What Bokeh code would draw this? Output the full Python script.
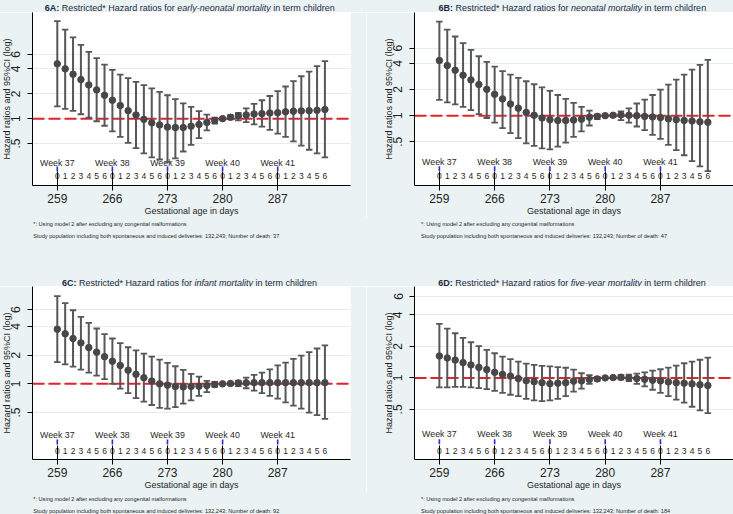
import math
from bokeh.plotting import figure
from bokeh.models import FixedTicker, Span, Range1d, Div
from bokeh.layouts import column, row
from bokeh.embed import file_html
from bokeh.resources import INLINE
from bokeh.core.properties import value

# ---------------- data ----------------
DAYS = list(range(259, 294))
DAY_DIGITS = ["0", "1", "2", "3", "4", "5", "6"] * 5
TICK_DAYS = [259, 266, 273, 280, 287]
WEEK_LABELS = ["Week 37", "Week 38", "Week 39", "Week 40", "Week 41"]
Y_TICKS = [0.5, 1, 2, 4, 6]
Y_TICK_LABELS = [".5", "1", "2", "4", "6"]

hr_6a = [4.61, 4.01, 3.45, 2.97, 2.56, 2.23, 1.92, 1.67, 1.44, 1.25, 1.11, 0.98, 0.89, 0.84, 0.79, 0.78, 0.78, 0.81,
         0.85, 0.90, 0.95, 1.00, 1.04, 1.08, 1.11, 1.14, 1.15, 1.17, 1.18, 1.21, 1.23, 1.24, 1.25, 1.26, 1.29]
hi_6a = [15.2, 12.0, 9.62, 7.84, 6.45, 5.40, 4.52, 3.90, 3.42, 3.09, 2.79, 2.54, 2.33, 2.11, 1.92, 1.72, 1.53, 1.39,
         1.23, 1.12, 1.03, 1.00, 1.10, 1.17, 1.33, 1.51, 1.67, 1.88, 2.15, 2.45, 2.84, 3.26, 3.72, 4.32, 4.97]
lo_6a = [1.41, 1.31, 1.24, 1.13, 1.03, 0.93, 0.82, 0.70, 0.60, 0.51, 0.44, 0.38, 0.34, 0.32, 0.30, 0.33, 0.40, 0.48,
         0.58, 0.72, 0.87, 1.00, 0.98, 0.955, 0.91, 0.85, 0.80, 0.73, 0.66, 0.60, 0.53, 0.47, 0.42, 0.38, 0.34]

hr_6b = [4.31, 3.77, 3.33, 2.92, 2.58, 2.28, 2.01, 1.76, 1.56, 1.36, 1.22, 1.09, 1.01, 0.94, 0.90, 0.88, 0.88, 0.89,
         0.91, 0.96, 0.98, 1.00, 1.01, 1.02, 1.01, 1.00, 0.98, 0.965, 0.95, 0.92, 0.90, 0.88, 0.87, 0.85, 0.84]
hi_6b = [12.1, 9.8, 8.15, 6.83, 5.72, 4.83, 4.16, 3.67, 3.25, 2.97, 2.72, 2.49, 2.30, 2.12, 1.93, 1.73, 1.56, 1.40,
         1.26, 1.14, 1.035, 1.00, 1.045, 1.12, 1.21, 1.38, 1.53, 1.73, 1.99, 2.28, 2.60, 2.97, 3.39, 3.84, 4.39]
lo_6b = [1.52, 1.42, 1.35, 1.26, 1.16, 1.04, 0.94, 0.83, 0.72, 0.63, 0.55, 0.48, 0.45, 0.42, 0.41, 0.44, 0.49, 0.57,
         0.66, 0.77, 0.91, 1.00, 0.97, 0.89, 0.83, 0.75, 0.68, 0.60, 0.54, 0.46, 0.40, 0.35, 0.30, 0.26, 0.23]

hr_6c = [3.74, 3.35, 2.99, 2.69, 2.40, 2.15, 1.93, 1.73, 1.56, 1.39, 1.26, 1.16, 1.07, 1.00, 0.97, 0.94, 0.93, 0.94,
         0.945, 0.96, 0.985, 1.00, 1.01, 1.02, 1.025, 1.03, 1.03, 1.03, 1.03, 1.03, 1.03, 1.03, 1.03, 1.03, 1.03]
hi_6c = [8.31, 7.02, 5.92, 5.04, 4.36, 3.81, 3.32, 2.99, 2.67, 2.42, 2.25, 2.08, 1.93, 1.80, 1.66, 1.53, 1.40, 1.27,
         1.19, 1.075, 1.05, 1.00, 1.03, 1.08, 1.165, 1.24, 1.31, 1.42, 1.56, 1.67, 1.83, 1.98, 2.15, 2.35, 2.53]
lo_6c = [1.69, 1.60, 1.52, 1.41, 1.31, 1.22, 1.12, 1.00, 0.89, 0.80, 0.71, 0.65, 0.60, 0.56, 0.55, 0.57, 0.62, 0.67,
         0.75, 0.82, 0.93, 1.00, 0.97, 0.945, 0.90, 0.85, 0.80, 0.75, 0.70, 0.64, 0.59, 0.55, 0.50, 0.47, 0.43]

hr_6d = [1.62, 1.55, 1.48, 1.40, 1.33, 1.26, 1.20, 1.13, 1.08, 1.04, 0.985, 0.94, 0.92, 0.90, 0.88, 0.89, 0.90, 0.93,
         0.936, 0.964, 0.978, 1.00, 1.007, 1.015, 1.00, 0.985, 0.97, 0.95, 0.936, 0.916, 0.90, 0.89, 0.876, 0.86, 0.845]
hi_6d = [3.28, 2.96, 2.67, 2.41, 2.19, 2.01, 1.85, 1.72, 1.60, 1.51, 1.43, 1.37, 1.33, 1.30, 1.29, 1.27, 1.25, 1.20,
         1.108, 1.06, 1.02, 1.00, 1.03, 1.06, 1.076, 1.10, 1.13, 1.175, 1.21, 1.255, 1.31, 1.38, 1.43, 1.49, 1.56]
lo_6d = [0.81, 0.81, 0.82, 0.82, 0.81, 0.80, 0.78, 0.75, 0.72, 0.69, 0.67, 0.63, 0.61, 0.60, 0.61, 0.63, 0.67, 0.74,
         0.79, 0.876, 0.943, 1.00, 0.98, 0.964, 0.93, 0.876, 0.83, 0.77, 0.72, 0.67, 0.62, 0.58, 0.53, 0.49, 0.46]

PANEL_IDS = ["6A:", "6B:", "6C:", "6D:"]
OUTCOMES = ["early-neonatal mortality", "neonatal mortality", "infant mortality", "five-year mortality"]
DEATHS = [37, 47, 92, 184]

TITLE_PRE = "Restricted* Hazard ratios for"
TITLE_POST = "in term children"
FOOT1 = "*: Using model 2 after excluding any congenital malformations"
FOOT2 = "Study population including both spontaneous and induced deliveries: 132,243; Number of death: {}"
X_LABEL = "Gestational age in days"
Y_LABEL = "Hazard ratios and 95%CI (log)"

# annotation heights (data units on the log axis)
WEEK_Y = 0.29
WEEK_TICK_Y = 0.245
DAY_Y = 0.2

# ---------------- style ----------------
FONT = "Liberation Sans"
BG = "#eaf2f3"
GRID = "#e4ecee"
RED = "#e0242b"
BAR = "#575757"
DOT = "#474747"
TXT = "#1f1f1f"
TITLE_C = "#1c2a44"
BLUE = "#2b2bd6"

X_START, X_END = 255.85, 296.25
FRAME_H = 173

# Helvetica / Arial width table (1/1000 em), used only to centre the title
_W = {}
for chars, w in [(" !,./:;Iift[]", 278), ("jl", 222), ("r()-", 333), ("*", 389),
                 ("ckszvxyJ", 500), ("abdeghnopqu0123456789", 556), ("ABEKPSVXY", 667),
                 ("CDHNRUw", 722), ("FTZ", 611), ("GOQ", 778), ("Mm", 833), ("W", 944), ("%", 889)]:
    for c in chars:
        _W[c] = w
_WB = {"6": 556, "A": 722, "B": 722, "C": 722, "D": 722, ":": 333, " ": 278}


def tw(s, size, bold=False):
    t = _WB if bold else _W
    return sum(t.get(c, 556) for c in s) * size / 1000.0


# sh: the panel is widened by sh px and pulled left by sh px so that the frame starts at l - sh
CFG = [
    dict(w=366, sh=5, l=37, r=16, th=12, tt=-1.0, fh=39, ft=1.4, flh=11.3, fx=33.3, yr=(0.155, 19.3)),
    dict(w=367, sh=0, l=48, r=0, th=12, tt=-1.0, fh=39, ft=1.4, flh=11.3, fx=55.0, yr=(0.157, 15.4)),
    dict(w=366, sh=5, l=37, r=16, th=29, tt=17.0, fh=22, ft=1.3, flh=12.0, fx=33.3, yr=(0.161, 10.5)),
    dict(w=367, sh=0, l=48, r=0, th=29, tt=17.0, fh=22, ft=1.3, flh=12.0, fx=55.0, yr=(0.166, 7.47)),
]
SERIES = [(hr_6a, lo_6a, hi_6a), (hr_6b, lo_6b, hi_6b), (hr_6c, lo_6c, hi_6c), (hr_6d, lo_6d, hi_6d)]
FIG_H = 206


def make_panel(i):
    c = CFG[i]
    hr, lo, hi = SERIES[i]
    W = c["w"] + c["sh"]
    p = figure(width=W, height=FIG_H, x_range=Range1d(X_START, X_END), y_range=Range1d(*c["yr"]),
               y_axis_type="log", output_backend="svg", toolbar_location=None,
               min_border_left=c["l"], min_border_right=c["r"], min_border_top=0,
               min_border_bottom=FIG_H - FRAME_H,
               background_fill_color="white", border_fill_color=BG, outline_line_color=None)

    xa = p.xaxis[0]
    xa.ticker = FixedTicker(ticks=TICK_DAYS, minor_ticks=[])
    xa.major_tick_in = 14
    xa.major_tick_out = 5
    xa.major_tick_line_color = "black"
    xa.axis_line_color = "black"
    xa.major_label_text_font = FONT
    xa.major_label_text_font_size = "12px"
    xa.major_label_text_color = TXT
    xa.major_label_standoff = 3
    xa.axis_label = X_LABEL
    xa.axis_label_text_font = FONT
    xa.axis_label_text_font_size = "9px"
    xa.axis_label_text_font_style = "normal"
    xa.axis_label_text_color = TXT
    xa.axis_label_standoff = 0

    ya = p.yaxis[0]
    ya.ticker = FixedTicker(ticks=Y_TICKS, minor_ticks=[])
    ya.major_label_overrides = dict(zip(Y_TICKS, Y_TICK_LABELS))
    ya.major_label_orientation = "vertical"
    ya.major_tick_in = 0
    ya.major_tick_out = 5
    ya.axis_line_color = "black"
    ya.major_label_text_font = FONT
    ya.major_label_text_font_size = "12px"
    ya.major_label_text_color = TXT
    ya.major_label_standoff = 7
    ya.axis_label = Y_LABEL
    ya.axis_label_text_font = FONT
    ya.axis_label_text_font_size = "9px"
    ya.axis_label_text_font_style = "normal"
    ya.axis_label_text_color = TXT
    ya.axis_label_standoff = -3

    p.xgrid.visible = False
    p.ygrid.ticker = FixedTicker(ticks=Y_TICKS, minor_ticks=[])
    p.ygrid.grid_line_color = GRID
    p.ygrid.grid_line_width = 1

    p.add_layout(Span(location=1, dimension="width", line_color=RED, line_width=2,
                      line_dash="12 4", level="underlay"))

    p.text(x=TICK_DAYS, y=[WEEK_Y] * len(TICK_DAYS), text=WEEK_LABELS, text_font=value(FONT),
           text_font_size=value("8.8px"), text_align="center", text_baseline="middle", text_color=TXT)
    p.scatter(x=TICK_DAYS, y=[WEEK_TICK_Y] * len(TICK_DAYS), marker="dash", angle=math.pi / 2,
              size=5, line_color=BLUE, line_width=1.6)
    p.text(x=DAYS, y=[DAY_Y] * len(DAYS), text=DAY_DIGITS, text_font=value(FONT),
           text_font_size=value("8.5px"), text_align="center", text_baseline="middle", text_color=TXT)

    p.segment(x0=DAYS, y0=lo, x1=DAYS, y1=hi, line_color=BAR, line_width=2)
    p.scatter(x=DAYS, y=hi, marker="dash", size=6.5, line_color=BAR, line_width=1.8)
    p.scatter(x=DAYS, y=lo, marker="dash", size=6.5, line_color=BAR, line_width=1.8)
    p.scatter(x=DAYS, y=hr, marker="circle", size=6.5, fill_color=DOT, line_color=DOT)

    fs = 9
    fw = W - c["l"] - c["r"]
    total = (tw(PANEL_IDS[i], fs, True) + tw(" " + TITLE_PRE + " ", fs) + tw(OUTCOMES[i], fs)
             + tw(" " + TITLE_POST, fs))
    x0 = c["l"] + fw / 2.0 - total / 2.0
    title_html = (
        '<div style="position:relative;left:%.1fpx;top:%.1fpx;white-space:nowrap;'
        'font-family:\'%s\';font-size:%dpx;line-height:10px;color:%s">'
        '<b>%s</b> %s <i>%s</i> %s</div>'
        % (x0, c["tt"], FONT, fs, TITLE_C, PANEL_IDS[i], TITLE_PRE, OUTCOMES[i], TITLE_POST))
    tdiv = Div(text=title_html, width=W, height=c["th"], margin=0,
               styles={"background-color": BG, "overflow": "visible"})

    foot_html = (
        '<div style="position:relative;left:%.1fpx;top:%.1fpx;white-space:nowrap;'
        'font-family:\'%s\';font-size:5.6px;line-height:%.1fpx;color:%s">%s<br>%s</div>'
        % (c["fx"] + c["sh"], c["ft"], FONT, c["flh"], TXT, FOOT1, FOOT2.format(DEATHS[i])))
    fdiv = Div(text=foot_html, width=W, height=c["fh"], margin=0,
               styles={"background-color": BG, "overflow": "hidden"})
    return column(tdiv, p, fdiv, spacing=0, margin=(0, 0, 0, -c["sh"]))


panels = [make_panel(i) for i in range(4)]
layout = column(row(panels[0], panels[1], spacing=0), row(panels[2], panels[3], spacing=0), spacing=0)

html = file_html(layout, INLINE)
html = html.replace("<body>", '<body style="margin:0;background:%s;overflow:hidden">' % BG, 1)
open("out.html", "w").write(html)
